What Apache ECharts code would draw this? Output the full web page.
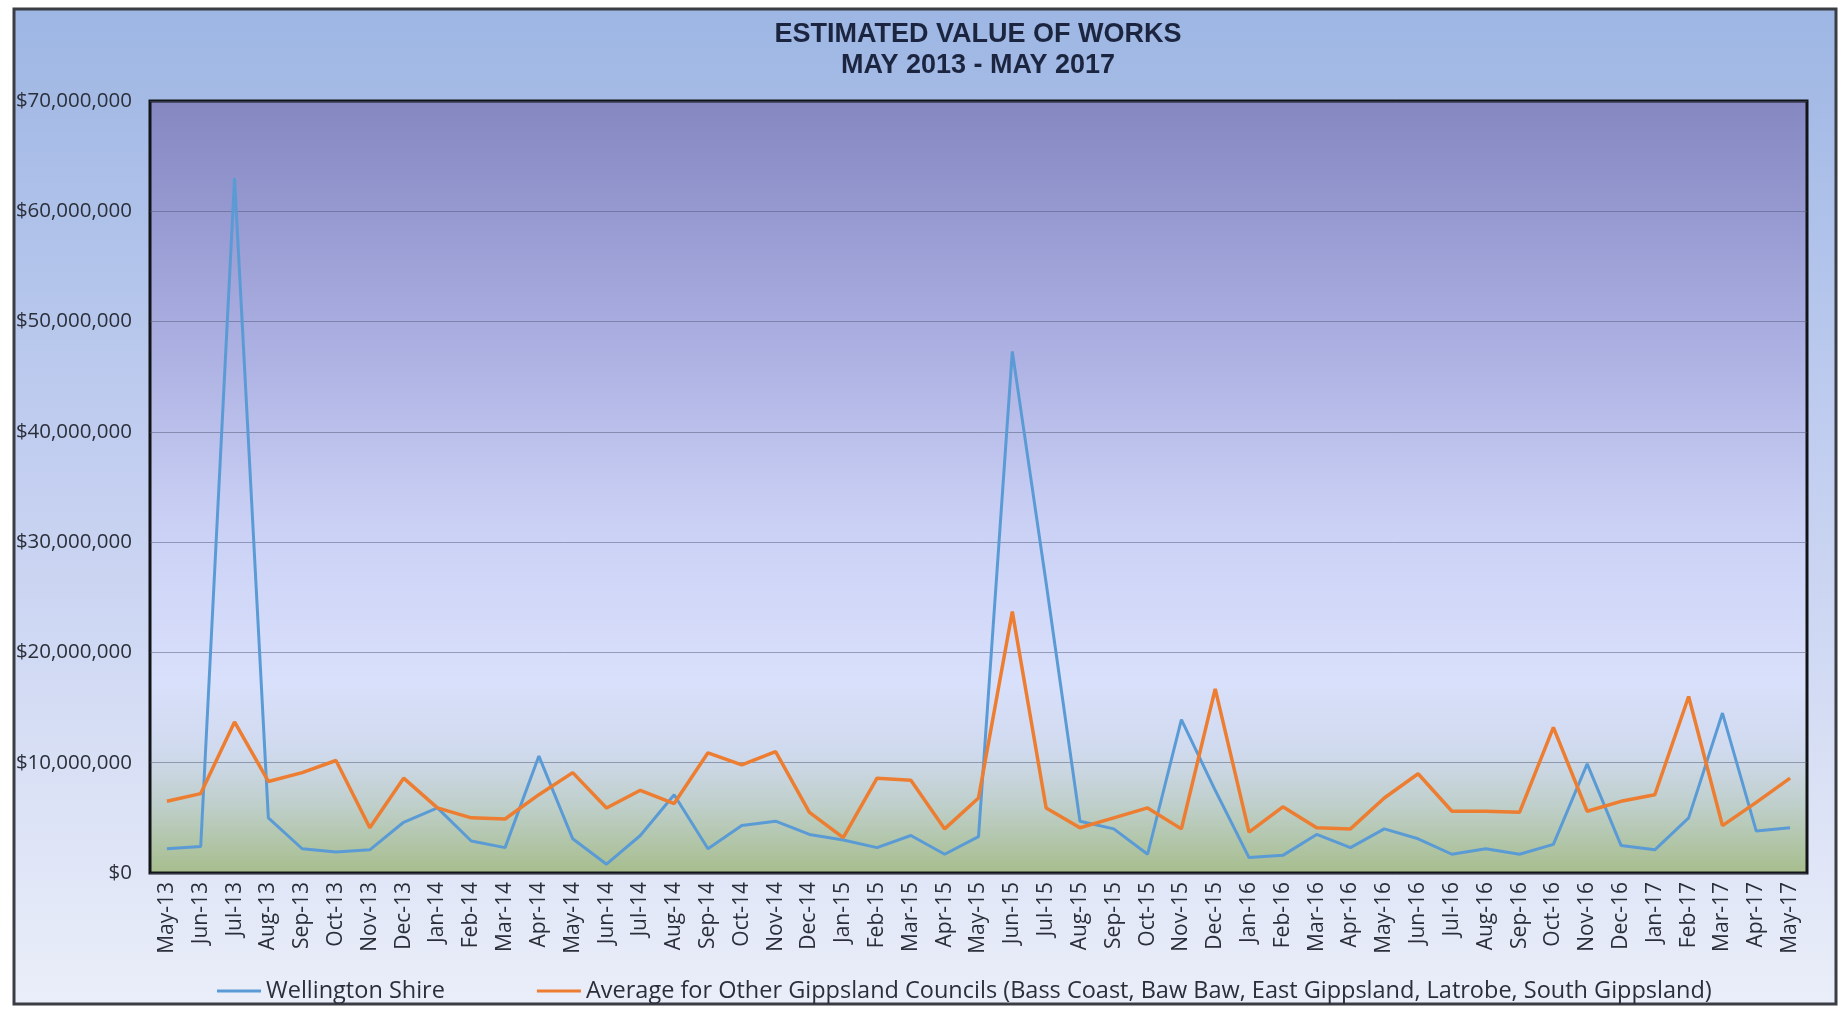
<!DOCTYPE html>
<html>
<head>
<meta charset="utf-8">
<title>Estimated Value of Works</title>
<script src="https://cdn.jsdelivr.net/npm/echarts@6/dist/echarts.min.js"></script>
<style>
  html, body { margin: 0; padding: 0; background: #ffffff; }
  #chart { width: 1843px; height: 1009px; }
</style>
</head>
<body>
<div id="chart"></div>
<script>
// Monthly building permit activity, May 2013 to May 2017
const months = [
  'May-13','Jun-13','Jul-13','Aug-13','Sep-13','Oct-13','Nov-13','Dec-13',
  'Jan-14','Feb-14','Mar-14','Apr-14','May-14','Jun-14','Jul-14','Aug-14',
  'Sep-14','Oct-14','Nov-14','Dec-14','Jan-15','Feb-15','Mar-15','Apr-15',
  'May-15','Jun-15','Jul-15','Aug-15','Sep-15','Oct-15','Nov-15','Dec-15',
  'Jan-16','Feb-16','Mar-16','Apr-16','May-16','Jun-16','Jul-16','Aug-16',
  'Sep-16','Oct-16','Nov-16','Dec-16','Jan-17','Feb-17','Mar-17','Apr-17',
  'May-17'
];

// Estimated value of works, Wellington Shire ($)
const wellington = [
  2200000, 2400000, 63000000, 5000000, 2200000, 1900000, 2100000, 4600000,
  5900000, 2900000, 2300000, 10600000, 3100000, 800000, 3400000, 7100000,
  2200000, 4300000, 4700000, 3500000, 3000000, 2300000, 3400000, 1700000,
  3300000, 47300000, 26300000, 4700000, 4000000, 1700000, 13900000, 7500000,
  1400000, 1600000, 3500000, 2300000, 4000000, 3100000, 1700000, 2200000,
  1700000, 2600000, 9900000, 2500000, 2100000, 5000000, 14500000, 3800000,
  4100000
];

// Average of the other Gippsland councils ($)
const gippslandAvg = [
  6500000, 7200000, 13700000, 8300000, 9100000, 10200000, 4100000, 8600000,
  5900000, 5000000, 4900000, 7100000, 9100000, 5900000, 7500000, 6300000,
  10900000, 9800000, 11000000, 5500000, 3200000, 8600000, 8400000, 4000000,
  6800000, 23700000, 5900000, 4100000, 5000000, 5900000, 4000000, 16700000,
  3700000, 6000000, 4100000, 4000000, 6800000, 9000000, 5600000, 5600000,
  5500000, 13200000, 5600000, 6500000, 7100000, 16000000, 4300000, 6400000,
  8600000
];

const seriesNames = [
  'Wellington Shire',
  'Average for Other Gippsland Councils (Bass Coast, Baw Baw, East Gippsland, Latrobe, South Gippsland)'
];
const titleLines = ['ESTIMATED VALUE OF WORKS', 'MAY 2013 - MAY 2017'];

const FONT = '"Open Sans", "Liberation Sans", sans-serif';

function dollars(v) {
  return '$' + Math.round(v).toString().replace(/\B(?=(\d{3})+(?!\d))/g, ',');
}

const chart = echarts.init(document.getElementById('chart'), null, { renderer: 'canvas' });

const option = {
  animation: false,
  backgroundColor: '#ffffff',
  graphic: [{
    type: 'rect',
    z: -10,
    silent: true,
    shape: { x: 14, y: 9, width: 1822, height: 995 },
    style: {
      fill: new echarts.graphic.LinearGradient(0, 0, 0, 1, [
        { offset: 0, color: '#9db6e3' },
        { offset: 0.45, color: '#c2cef0' },
        { offset: 1, color: '#eaeef9' }
      ]),
      stroke: '#3a3d44',
      lineWidth: 3
    }
  }],
  title: {
    text: titleLines.join('\n'),
    left: 978,
    top: 19,
    padding: 0,
    textAlign: 'center',
    textStyle: {
      fontFamily: '"Liberation Sans", Arial, sans-serif',
      fontWeight: 'bold',
      fontSize: 27,
      lineHeight: 31,
      color: '#1c2540'
    }
  },
  legend: {
    left: 217,
    top: 979,
    icon: 'rect',
    itemWidth: 44,
    itemHeight: 3,
    itemGap: 92,
    padding: 0,
    textStyle: { fontFamily: FONT, fontSize: 23.5, color: '#2a2f3a' },
    data: seriesNames
  },
  grid: {
    left: 150,
    right: 36,
    top: 101,
    bottom: 136,
    show: true,
    borderColor: '#121418',
    borderWidth: 3,
    backgroundColor: new echarts.graphic.LinearGradient(0, 0, 0, 1, [
      { offset: 0, color: '#8587c1' },
      { offset: 0.3, color: '#a9ade0' },
      { offset: 0.55, color: '#cbd1f5' },
      { offset: 0.75, color: '#d9e0fb' },
      { offset: 0.84, color: '#d0daee' },
      { offset: 0.91, color: '#bfcfcb' },
      { offset: 1, color: '#a6bd8b' }
    ])
  },
  xAxis: {
    type: 'category',
    data: months,
    boundaryGap: true,
    axisLine: { show: false },
    axisTick: { show: false },
    axisLabel: {
      rotate: 90,
      interval: 0,
      margin: 9,
      fontFamily: FONT,
      fontSize: 21,
      color: '#2a2f3a'
    }
  },
  yAxis: {
    type: 'value',
    min: 0,
    max: 70000000,
    interval: 10000000,
    axisLine: { show: false },
    axisTick: { show: false },
    splitLine: { lineStyle: { color: 'rgba(80,90,120,0.5)', width: 1 } },
    axisLabel: {
      margin: 18,
      fontFamily: FONT,
      fontSize: 20.5,
      color: '#2a2f3a',
      formatter: dollars
    }
  },
  series: [
    {
      name: seriesNames[0],
      type: 'line',
      data: wellington,
      symbol: 'none',
      lineStyle: { color: '#5b9bd5', width: 3 },
      itemStyle: { color: '#5b9bd5' }
    },
    {
      name: seriesNames[1],
      type: 'line',
      data: gippslandAvg,
      symbol: 'none',
      lineStyle: { color: '#ed7d31', width: 3.5 },
      itemStyle: { color: '#ed7d31' }
    }
  ]
};

chart.setOption(option);
</script>
</body>
</html>
